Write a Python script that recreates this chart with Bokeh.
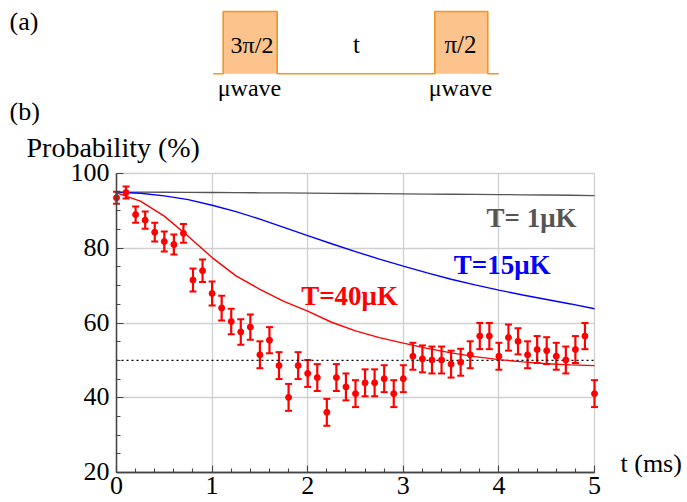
from bokeh.plotting import figure
from bokeh.models import (Range1d, Label, Whisker, ColumnDataSource, TeeHead, FixedTicker,
                          LinearAxis, Grid)
from bokeh.embed import file_html
from bokeh.resources import INLINE

# ---------------- data ----------------
t_meas = [0.0, 0.1, 0.2, 0.3, 0.4, 0.5, 0.6, 0.7, 0.8, 0.9,
          1.0, 1.1, 1.2, 1.3, 1.4, 1.5, 1.6, 1.7, 1.8, 1.9,
          2.0, 2.1, 2.2, 2.3, 2.4, 2.5, 2.6, 2.7, 2.8, 2.9,
          3.0, 3.1, 3.2, 3.3, 3.4, 3.5, 3.6, 3.7, 3.8, 3.9,
          4.0, 4.1, 4.2, 4.3, 4.4, 4.5, 4.6, 4.7, 4.8, 4.9, 5.0]
p_meas = [93.5, 94.9, 89.0, 87.5, 84.3, 81.8, 81.0, 84.0, 71.5, 74.0,
          67.9, 64.0, 60.4, 57.6, 58.9, 51.5, 55.4, 48.6, 40.1, 48.6,
          46.5, 45.4, 36.1, 45.4, 42.9, 41.1, 44.0, 44.0, 45.1, 41.1,
          45.1, 51.1, 50.4, 50.1, 50.1, 49.0, 49.5, 51.5, 56.5, 56.5,
          51.1, 56.1, 55.1, 51.5, 52.9, 52.6, 51.1, 50.1, 52.9, 56.5, 41.1]
p_err = [1.6, 1.6, 2.2, 2.3, 2.5, 2.7, 2.7, 2.5, 3.1, 3.0,
         3.2, 3.3, 3.4, 3.4, 3.4, 3.6, 3.5, 3.6, 3.6, 3.6,
         3.6, 3.6, 3.6, 3.6, 3.6, 3.6, 3.6, 3.6, 3.6, 3.6,
         3.6, 3.6, 3.6, 3.6, 3.6, 3.6, 3.6, 3.6, 3.5, 3.5,
         3.6, 3.5, 3.5, 3.6, 3.6, 3.6, 3.6, 3.6, 3.6, 3.5, 3.6]

t_curve = [0.0, 0.25, 0.5, 0.75, 1.0, 1.25, 1.5, 1.75, 2.0, 2.25, 2.5,
           2.75, 3.0, 3.25, 3.5, 3.75, 4.0, 4.25, 4.5, 4.75, 5.0]
curve_1uK = [95.0, 95.0, 94.98, 94.95, 94.92, 94.88, 94.84, 94.8, 94.75, 94.7, 94.65,
             94.6, 94.55, 94.5, 94.45, 94.4, 94.35, 94.3, 94.25, 94.18, 94.1]
curve_15uK = [95.0, 94.7, 94.0, 93.0, 91.5, 89.8, 87.8, 85.6, 83.4, 81.2, 79.1,
              77.1, 75.2, 73.4, 71.7, 70.2, 68.8, 67.5, 66.3, 65.1, 63.8]
curve_40uK = [94.8, 92.6, 88.6, 83.2, 77.5, 72.6, 69.0, 65.8, 63.2, 60.2, 57.9,
              56.1, 54.6, 53.2, 52.0, 51.0, 50.2, 49.6, 49.1, 48.8, 48.6]

x_ticks = [0, 1, 2, 3, 4, 5]
y_ticks = [20, 40, 60, 80, 100]
x_tick_labels = ["0", "1", "2", "3", "4", "5"]
y_tick_labels = ["20", "40", "60", "80", "100"]
x_minor = [0.2, 0.4, 0.6, 0.8, 1.2, 1.4, 1.6, 1.8, 2.2, 2.4, 2.6, 2.8,
           3.2, 3.4, 3.6, 3.8, 4.2, 4.4, 4.6, 4.8]
y_minor = [25, 30, 35, 45, 50, 55, 65, 70, 75, 85, 90, 95]

# ---------------- layout constants (page pixels) ----------------
W, H = 687, 502
FONT = "Liberation Serif"
ORANGE = "#F7941D"
ORANGE_FILL = "#FDC38D"
AX_COLOR = "#444444"
GRID_COLOR = "#d0d0d0"

# where x=0 / x=5 and y=100 / y=20 sit on the page
PX_X0, PX_X5 = 116.0, 594.0
PX_Y100, PX_Y20 = 173.0, 472.0
KX = (PX_X5 - PX_X0) / 5.0
KY = (PX_Y20 - PX_Y100) / 80.0
BASE_FIX = 0.365  # label anchor correction, in em


def dx(px):
    return (px - PX_X0) / KX


def dy(py):
    return 20.0 + (PX_Y20 - py) / KY


p = figure(width=W, height=H,
           x_range=Range1d(dx(0), dx(W)), y_range=Range1d(dy(H), dy(0)),
           x_axis_type=None, y_axis_type=None,
           output_backend="svg", toolbar_location=None, min_border=0)
p.outline_line_color = None


def text_at(txt, x, page_base, size, align="left", color="black", style="normal"):
    """Place text with its baseline at page pixel row page_base (x in data units)."""
    p.add_layout(Label(x=x, y=dy(page_base - BASE_FIX * size), text=txt, text_font=FONT,
                       text_font_size=f"{size}px", text_align=align,
                       text_baseline="alphabetic", text_color=color,
                       text_font_style=style))


def make_axis(tick_positions, tick_len, bounds, loc):
    ax = LinearAxis(ticker=FixedTicker(ticks=[], minor_ticks=tick_positions),
                    bounds=bounds, fixed_location=loc)
    ax.axis_line_color = AX_COLOR
    ax.axis_line_width = 1.3
    ax.minor_tick_line_color = AX_COLOR
    ax.minor_tick_line_width = 1.1
    ax.minor_tick_in = tick_len
    ax.minor_tick_out = 0
    ax.major_tick_in = 0
    ax.major_tick_out = 0
    ax.major_label_standoff = 0
    return ax


# axes: short minor ticks and longer major ticks, both pointing inward
p.add_layout(make_axis(x_minor, 4, (0, 5), 20), "below")
p.add_layout(make_axis(x_ticks, 7, (0, 5), 20), "below")
p.add_layout(make_axis(y_minor, 4, (20, 100), 0), "left")
p.add_layout(make_axis(y_ticks, 7, (20, 100), 0), "left")

xgrid = Grid(dimension=0, ticker=FixedTicker(ticks=x_ticks[1:]),
             grid_line_color=GRID_COLOR, grid_line_width=1.3)
ygrid = Grid(dimension=1, ticker=FixedTicker(ticks=y_ticks[1:]),
             grid_line_color=GRID_COLOR, grid_line_width=1.3)
if "cross_bounds" in Grid.properties():
    xgrid.cross_bounds = (20, 100)
    ygrid.cross_bounds = (0, 5)
    p.add_layout(xgrid)
    p.add_layout(ygrid)
else:
    p.segment(x0=x_ticks[1:], y0=[20] * 5, x1=x_ticks[1:], y1=[100] * 5,
              line_color=GRID_COLOR, line_width=1.3, level="underlay")
    p.segment(x0=[0] * 4, y0=y_ticks[1:], x1=[5] * 4, y1=y_ticks[1:],
              line_color=GRID_COLOR, line_width=1.3, level="underlay")

# tick labels
TICK_FS = 26
for xv, lab in zip(x_ticks, x_tick_labels):
    text_at(lab, xv, 494, TICK_FS, align="center")
for yv, lab in zip(y_ticks, y_tick_labels):
    page_row = PX_Y20 - (yv - 20) * KY
    text_at(lab, dx(109), page_row + 8.5, TICK_FS, align="right")

# reference line at 50 %
p.line(x=[0, 5], y=[50, 50], line_color="black", line_dash="2 3", line_width=1.2)

# theory curves
p.line(t_curve, curve_1uK, line_color="#555555", line_width=1.3)
p.line(t_curve, curve_15uK, line_color="#0000FF", line_width=1.4)
p.line(t_curve, curve_40uK, line_color="#FF0000", line_width=1.4)

# measured data with error bars
src = ColumnDataSource(dict(x=t_meas, y=p_meas,
                            lo=[v - e for v, e in zip(p_meas, p_err)],
                            hi=[v + e for v, e in zip(p_meas, p_err)]))
p.add_layout(Whisker(source=src, base="x", lower="lo", upper="hi", dimension="height",
                     line_color="#FF0000", line_width=2.2,
                     lower_head=TeeHead(size=7, line_color="#FF0000", line_width=2),
                     upper_head=TeeHead(size=7, line_color="#FF0000", line_width=2)))
p.scatter("x", "y", source=src, size=6, color="#FF0000")

# curve labels
text_at("T= 1μK", dx(486), 227.3, 27, color="#555555", style="bold")
text_at("T=15μK", dx(453.3), 274, 27, color="#0000FF", style="bold")
text_at("T=40μK", dx(300.7), 305, 27, color="#FF0000", style="bold")

# panel / axis titles
text_at("(b)", dx(9), 120, 26)
text_at("Probability (%)", dx(26), 157.5, 28)
text_at("t (ms)", dx(620), 472, 26)

# ---------------- (a) pulse diagram ----------------
box_left = [222.7, 434.3]
box_right = [276.7, 487.3]
box_top = 11.0
base_y = 73.3
p.quad(left=[dx(v) for v in box_left], right=[dx(v) for v in box_right],
       top=[dy(box_top)] * 2, bottom=[dy(base_y)] * 2,
       fill_color=ORANGE_FILL, line_color=None)
path_x = [212.7, box_left[0], box_left[0], box_right[0], box_right[0],
          box_left[1], box_left[1], box_right[1], box_right[1], 498.3]
path_y = [base_y, base_y, box_top, box_top, base_y, base_y, box_top, box_top, base_y, base_y]
p.line([dx(v) for v in path_x], [dy(v) for v in path_y], line_color=ORANGE, line_width=1.6)

text_at("(a)", dx(9), 30, 26)
text_at("3π/2", dx(251.5), 53.3, 24, align="center")
text_at("t", dx(356), 53.3, 25, align="center")
text_at("π/2", dx(460), 53.3, 25, align="center")
for xc in [249, 460]:
    text_at("μwave", dx(xc), 96.7, 24, align="center")

open("out.html", "w").write(file_html(p, INLINE))
